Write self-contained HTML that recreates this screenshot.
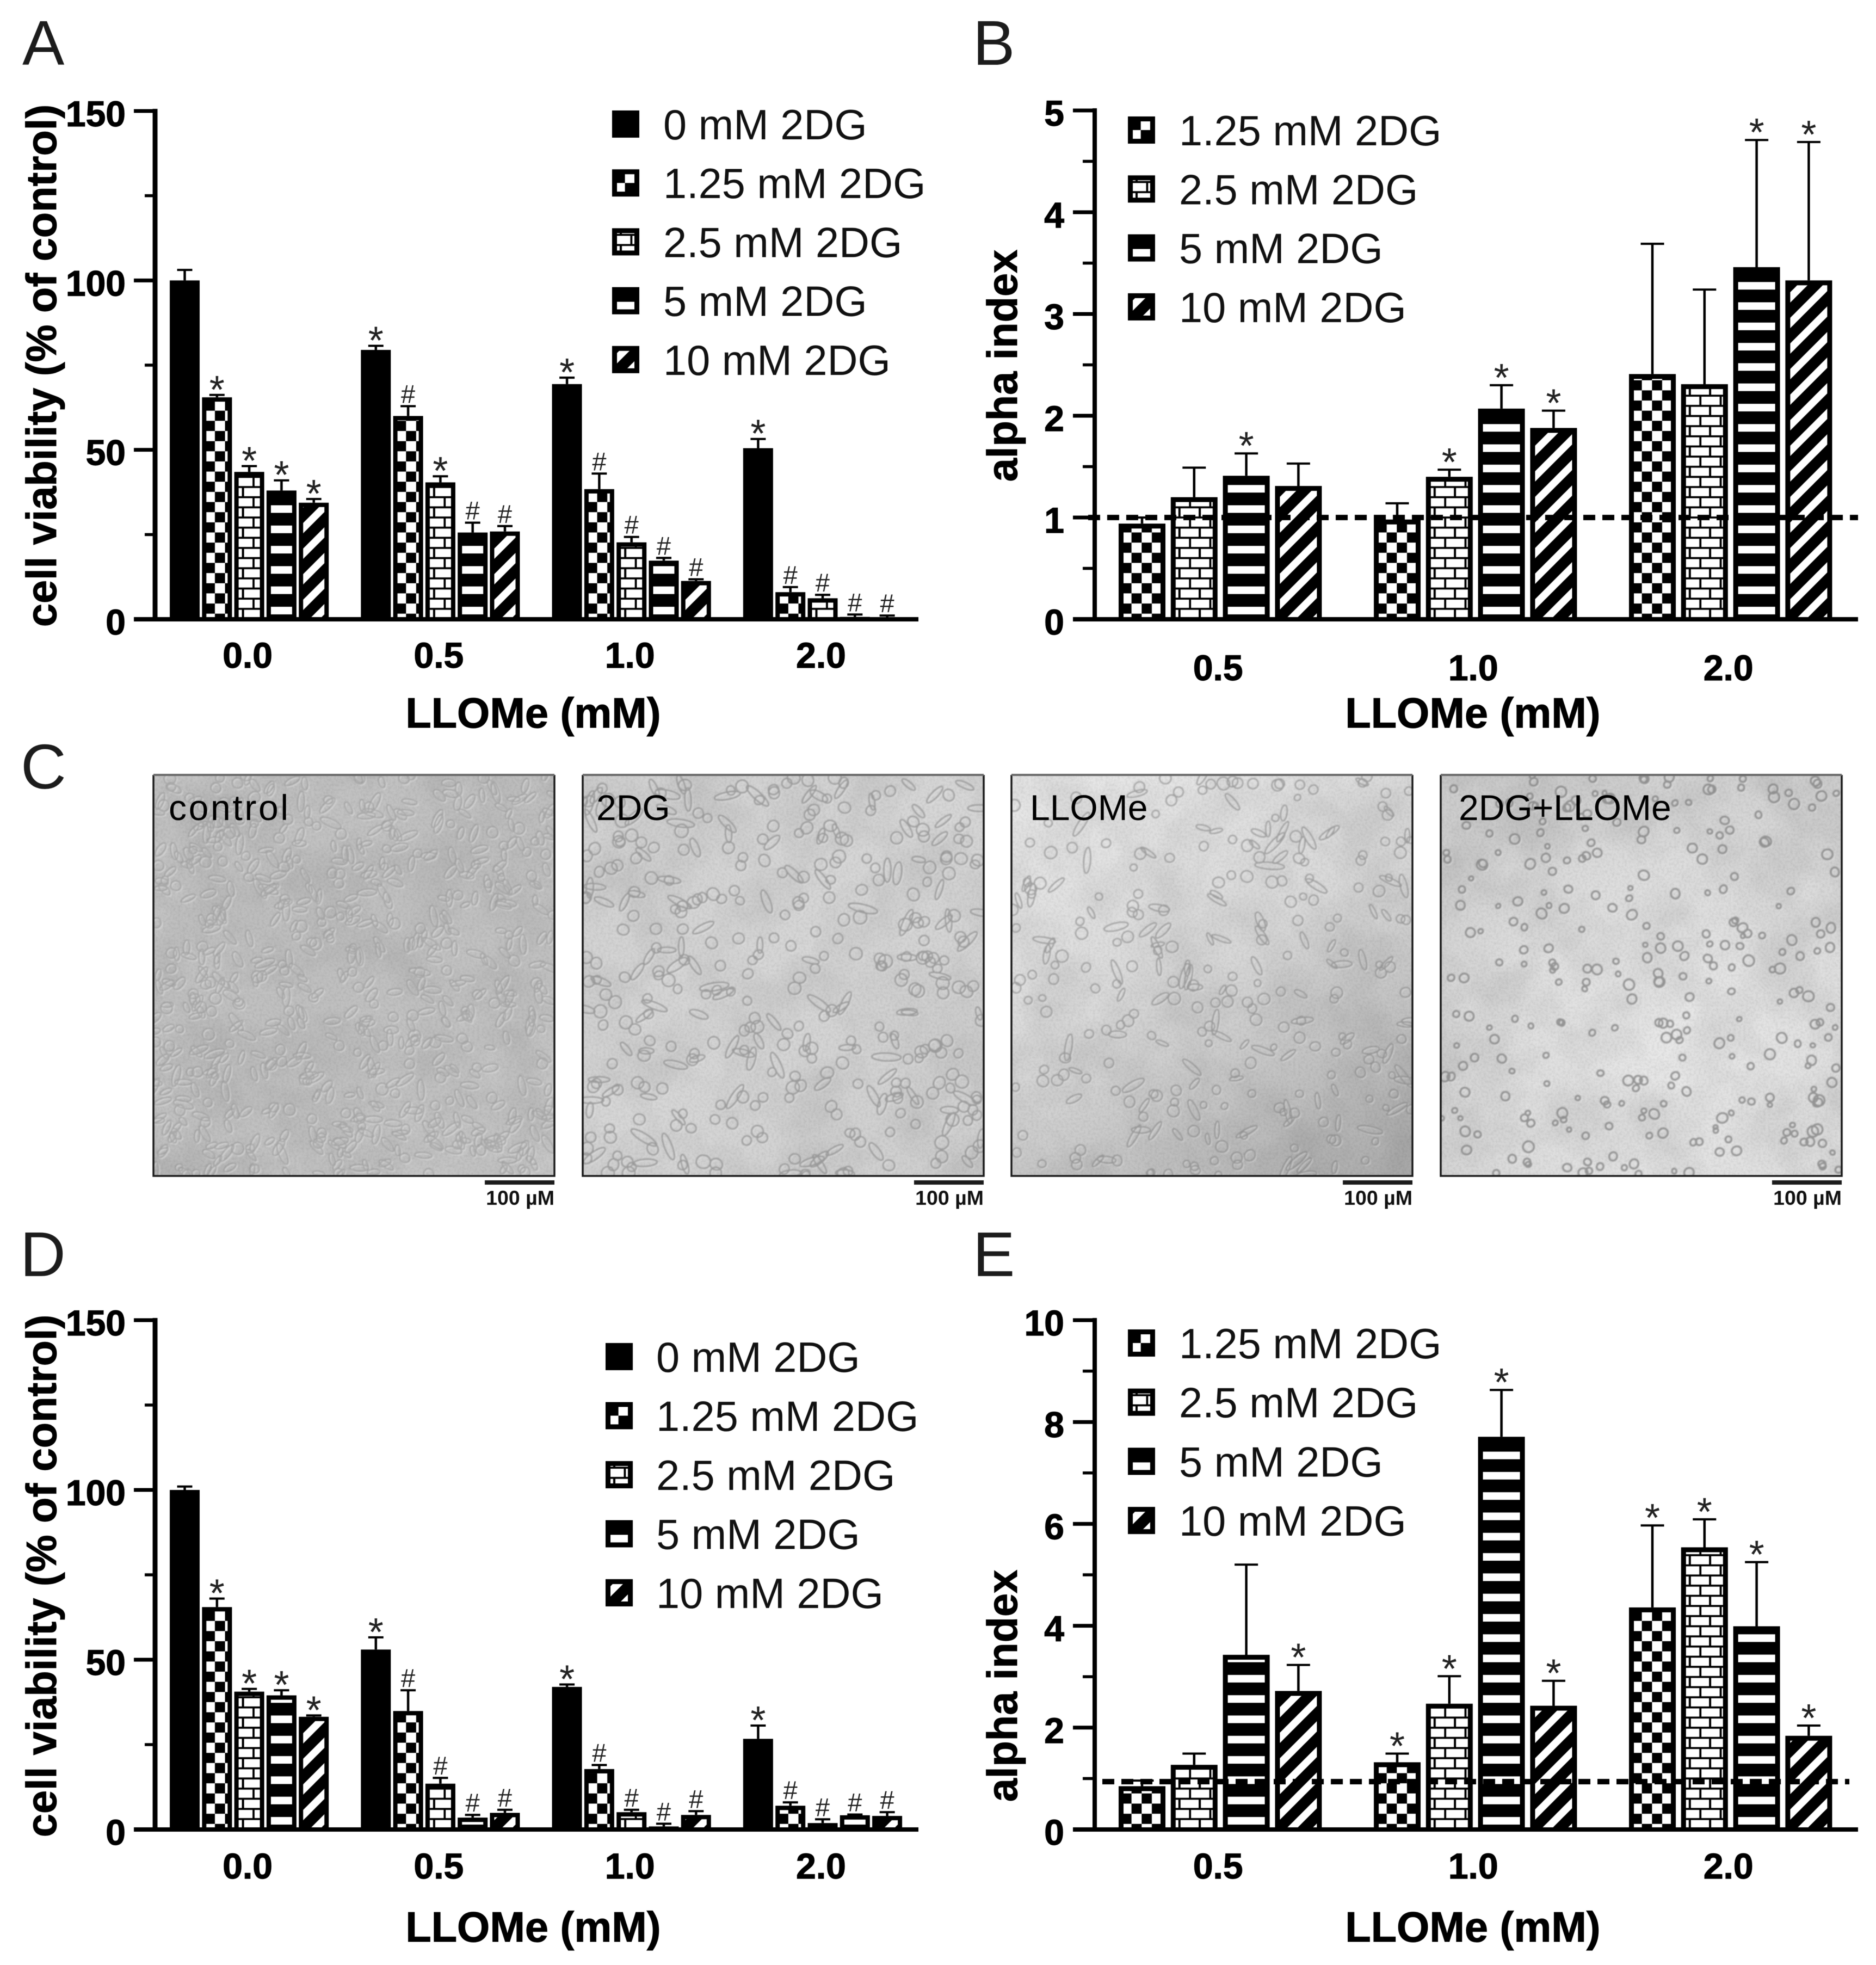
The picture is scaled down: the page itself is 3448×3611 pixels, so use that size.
<!DOCTYPE html>
<html lang="en">
<head>
<meta charset="utf-8">
<title>2DG and LLOMe cell viability figure</title>
<style>
  html, body { margin: 0; padding: 0; background: #fff; }
  body { width: 3448px; height: 3611px; overflow: hidden; }
  svg { display: block; font-family: "Liberation Sans", sans-serif; filter: blur(0.7px); }
</style>
</head>
<body>
<svg id="figure" xmlns="http://www.w3.org/2000/svg" width="3448" height="3611" viewBox="0 0 3448 3611">
  <defs>
    <pattern id="pat-check" x="5" y="-47.6" width="37.3" height="37.3" patternUnits="userSpaceOnUse">
      <rect x="0" y="0" width="18.65" height="18.65" fill="#fff"/>
      <rect x="18.65" y="18.65" width="18.65" height="18.65" fill="#fff"/>
    </pattern>
    <pattern id="pat-brick" x="0" y="-36" width="37.3" height="37.3" patternUnits="userSpaceOnUse">
      <rect x="0" y="0" width="33.5" height="15" fill="#fff"/>
      <rect x="0" y="18.65" width="14" height="15" fill="#fff"/>
      <rect x="18" y="18.65" width="19.3" height="15" fill="#fff"/>
    </pattern>
    <pattern id="pat-hstripe" x="0" y="-23" width="37.3" height="37.3" patternUnits="userSpaceOnUse">
      <rect x="0" y="0" width="37.3" height="14" fill="#fff"/>
    </pattern>
    <pattern id="pat-diag" x="0" y="0" width="47" height="47" patternUnits="userSpaceOnUse">
      <polygon points="19,0 38,0 0,38 0,19" fill="#fff"/>
      <polygon points="47,19 47,38 38,47 19,47" fill="#fff"/>
    </pattern>
    <filter id="blotch" x="0" y="0" width="100%" height="100%">
      <feTurbulence type="fractalNoise" baseFrequency="0.009" numOctaves="3" seed="7"/>
      <feColorMatrix type="matrix" values="0 0 0 0 0  0 0 0 0 0  0 0 0 0 0  2.4 0 0 0 -0.85"/>
    </filter>
    <filter id="grain" x="0" y="0" width="100%" height="100%">
      <feTurbulence type="fractalNoise" baseFrequency="0.22" numOctaves="2" seed="3"/>
      <feColorMatrix type="matrix" values="0 0 0 0 0  0 0 0 0 0  0 0 0 0 0  1.6 0 0 0 -0.6"/>
    </filter>
    <filter id="soft" x="0" y="0" width="100%" height="100%">
      <feGaussianBlur stdDeviation="1.1"/>
    </filter>
    <linearGradient id="shade-control" x1="0" y1="0" x2="1" y2="1">
      <stop offset="0" stop-color="#c4c4c4"/><stop offset="0.5" stop-color="#bfbfbf"/><stop offset="1" stop-color="#c8c8c8"/>
    </linearGradient>
    <linearGradient id="shade-2dg" x1="0" y1="0" x2="1" y2="1">
      <stop offset="0" stop-color="#d0d0d0"/><stop offset="0.5" stop-color="#d6d6d6"/><stop offset="1" stop-color="#cdcdcd"/>
    </linearGradient>
    <linearGradient id="shade-llome" x1="0.25" y1="0" x2="0.85" y2="1">
      <stop offset="0" stop-color="#e6e6e6"/><stop offset="0.45" stop-color="#d8d8d8"/><stop offset="1" stop-color="#aeaeae"/>
    </linearGradient>
    <radialGradient id="shade-combo" cx="0.6" cy="0.7" r="0.8">
      <stop offset="0" stop-color="#e8e8e8"/><stop offset="0.6" stop-color="#dcdcdc"/><stop offset="1" stop-color="#cccccc"/>
    </radialGradient>
  </defs>

  <g id="panel-letters" font-size="116" fill="#1c1c1c">
    <text x="41" y="119">A</text>
    <text x="1788" y="119">B</text>
    <text x="38" y="1449">C</text>
    <text x="37" y="2345">D</text>
    <text x="1788" y="2345">E</text>
  </g>

  <g id="micrographs"></g>
  <g id="chart-a"></g>
  <g id="chart-b"></g>
  <g id="chart-d"></g>
  <g id="chart-e"></g>
</svg>

<script>
// ---------- Panel A data ----------
const aCategories = ['0.0', '0.5', '1.0', '2.0'];
const aSeriesNames = ['0 mM 2DG', '1.25 mM 2DG', '2.5 mM 2DG', '5 mM 2DG', '10 mM 2DG'];
const aYTicks = [0, 50, 100, 150];
const aYMinorTicks = [25, 75, 125];
const aValues = [
  [100, 79.5, 69.4, 50.5],
  [65.5, 60, 38.4, 8],
  [43.5, 40.4, 22.7, 6.2],
  [38, 25.6, 17.3, 0.7],
  [34.4, 25.9, 11.3, 0.5]
];
const aErrorTops = [
  [103.1, 80.7, 71.3, 53.2],
  [66.2, 62.9, 43, 9.5],
  [45.2, 42.2, 24.3, 7.2],
  [41, 28.5, 18.1, 1.4],
  [35.5, 27.5, 11.8, 1.1]
];
const aMarks = [
  ['', '*', '*', '*'],
  ['*', '#', '#', '#'],
  ['*', '*', '#', '#'],
  ['*', '#', '#', '#'],
  ['*', '#', '#', '#']
];

// ---------- Panel B data ----------
const bCategories = ['0.5', '1.0', '2.0'];
const bSeriesNames = ['1.25 mM 2DG', '2.5 mM 2DG', '5 mM 2DG', '10 mM 2DG'];
const bYTicks = [0, 1, 2, 3, 4, 5];
const bYMinorTicks = [0.5, 1.5, 2.5, 3.5, 4.5];
const bReference = [1];
const bValues = [
  [0.94, 0.98, 2.41],
  [1.2, 1.4, 2.31],
  [1.41, 2.07, 3.46],
  [1.31, 1.88, 3.33]
];
const bErrorTops = [
  [1.0, 1.14, 3.69],
  [1.49, 1.47, 3.24],
  [1.63, 2.3, 4.71],
  [1.53, 2.05, 4.69]
];
const bMarks = [
  ['', '', ''],
  ['', '*', ''],
  ['*', '*', '*'],
  ['', '*', '*']
];

// ---------- Panel D data ----------
const dCategories = ['0.0', '0.5', '1.0', '2.0'];
const dSeriesNames = ['0 mM 2DG', '1.25 mM 2DG', '2.5 mM 2DG', '5 mM 2DG', '10 mM 2DG'];
const dYTicks = [0, 50, 100, 150];
const dYMinorTicks = [25, 75, 125];
const dValues = [
  [100, 53, 42, 26.7],
  [65.5, 34.9, 17.8, 7],
  [40.6, 13.5, 5.1, 1.9],
  [39.5, 3.5, 0.9, 4.2],
  [33.2, 4.9, 4.3, 4]
];
const dErrorTops = [
  [101, 56.6, 42.7, 30.6],
  [68, 41, 19, 8],
  [41.4, 15.2, 5.8, 3],
  [41, 4.3, 1.7, 4.4],
  [33.6, 5.8, 5.4, 5.1]
];
const dMarks = [
  ['', '*', '*', '*'],
  ['*', '#', '#', '#'],
  ['*', '#', '#', '#'],
  ['*', '#', '#', '#'],
  ['*', '#', '#', '#']
];

// ---------- Panel E data ----------
const eCategories = ['0.5', '1.0', '2.0'];
const eSeriesNames = ['1.25 mM 2DG', '2.5 mM 2DG', '5 mM 2DG', '10 mM 2DG'];
const eYTicks = [0, 2, 4, 6, 8, 10];
const eYMinorTicks = [1, 3, 5, 7, 9];
const eReference = [0.94];
const eValues = [
  [0.85, 1.32, 4.36],
  [1.27, 2.47, 5.54],
  [3.43, 7.71, 3.99],
  [2.72, 2.43, 1.84]
];
const eErrorTops = [
  [0.96, 1.49, 5.97],
  [1.49, 3.01, 6.09],
  [5.2, 8.63, 5.25],
  [3.23, 2.92, 2.04]
];
const eMarks = [
  ['', '*', '*'],
  ['', '*', '*'],
  ['', '*', '*'],
  ['*', '*', '*']
];

const NS = 'http://www.w3.org/2000/svg';
const patternForSeries = {
  '0 mM 2DG': null,
  '1.25 mM 2DG': 'pat-check',
  '2.5 mM 2DG': 'pat-brick',
  '5 mM 2DG': 'pat-hstripe',
  '10 mM 2DG': 'pat-diag'
};

function make(tag, attrs, parent) {
  const el = document.createElementNS(NS, tag);
  for (const k in attrs) el.setAttribute(k, attrs[k]);
  parent.appendChild(el);
  return el;
}
function slug(s) {
  return s.toLowerCase().replace(/[^a-z0-9]+/g, '-').replace(/^-|-$/g, '');
}

function drawChart(g) {
  const root = document.getElementById(g.id);
  const yScale = v => g.base - (v / g.max) * (g.base - g.top);
  const xBar = (c, s) => g.group0 + c * g.groupStep + s * g.barStep;
  const xCat = c => xBar(c, 0) + ((g.series.length - 1) * g.barStep + g.barW) / 2 + g.catShift;

  // error bars
  g.series.forEach((name, s) => {
    g.categories.forEach((cat, c) => {
      const cx = xBar(c, s) + g.barW / 2;
      const e = yScale(g.errors[s][c]);
      const bw = make('g', { stroke: '#000', fill: 'none' }, root);
      
      
      make('line', { x1: cx, x2: cx, y1: yScale(g.values[s][c]), y2: e, 'stroke-width': 4.5 }, bw);
      make('line', { x1: cx - g.capW / 2, x2: cx + g.capW / 2, y1: e, y2: e, 'stroke-width': 4 }, bw);
    });
  });

  // bars
  g.series.forEach((name, s) => {
    g.categories.forEach((cat, c) => {
      const h = g.base - yScale(g.values[s][c]);
      const barG = make('g', { transform: 'translate(' + xBar(c, s) + ',' + g.base + ')' }, root);
      
      
      make('rect', { x: 0, y: -h, width: g.barW, height: h, fill: '#000' }, barG);
      const pat = patternForSeries[name];
      if (pat && h > g.border + 1) {
        make('rect', { x: g.border, y: -h + g.border, width: g.barW - 2 * g.border, height: h - g.border, fill: 'url(#' + pat + ')' }, barG);
      }
    });
  });

  // significance marks
  g.series.forEach((name, s) => {
    g.categories.forEach((cat, c) => {
      const m = g.marks[s][c];
      if (!m) return;
      const cx = xBar(c, s) + g.barW / 2;
      const e = yScale(g.errors[s][c]);
      const t = make('text', {
        x: cx, y: m === '*' ? e + g.starDrop : e - 6, 'text-anchor': 'middle',
        'font-size': m === '*' ? 72 : 47, fill: '#222'
      }, root);
      t.textContent = m;
      
      
    });
  });

  // reference line
  g.reference.forEach(v => {
    const l = make('line', {
      x1: g.refStart, x2: g.refEnd, y1: yScale(v), y2: yScale(v),
      stroke: '#000', 'stroke-width': 10, 'stroke-dasharray': '22 13'
    }, root);
    
    
  });

  // axes
  const yAxis = make('line', { x1: g.axisX, x2: g.axisX, y1: yScale(g.max) - 4, y2: g.base + 4, stroke: '#000', 'stroke-width': g.axisW }, root);
  
  
  const xAxis = make('line', { x1: g.tickLeft, x2: g.axisEnd, y1: g.base, y2: g.base, stroke: '#000', 'stroke-width': 8 }, root);
  
  

  g.yTicks.forEach(v => {
    const y = yScale(v);
    const tk = make('line', { x1: g.tickLeft, x2: g.axisX, y1: y, y2: y, stroke: '#000', 'stroke-width': 7 }, root);
    
    
    const lb = make('text', { x: g.tickLabelRight, y: y + 28, 'text-anchor': 'end', 'font-size': 66, 'font-weight': 700, fill: '#000', stroke: '#000', 'stroke-width': 1.2 }, root);
    lb.textContent = String(v);
    
    
  });
  g.yMinor.forEach(v => {
    const y = yScale(v);
    const tk = make('line', { x1: g.minorLeft, x2: g.axisX, y1: y, y2: y, stroke: '#000', 'stroke-width': 5.5 }, root);
    
    
  });

  g.categories.forEach((cat, c) => {
    const t = make('text', { x: xCat(c), y: g.catBaseline, 'text-anchor': 'middle', 'font-size': 66, 'font-weight': 700, fill: '#000', stroke: '#000', 'stroke-width': 1.2 }, root);
    t.textContent = cat;
    
    
  });

  // titles
  const xt = make('text', { x: g.xTitleX, y: g.xTitleY, 'text-anchor': 'middle', 'font-size': 77.5, 'font-weight': 700, fill: '#000', stroke: '#000', 'stroke-width': 1 }, root);
  xt.textContent = 'LLOMe (mM)';
  
  
  const yt = make('text', {
    transform: 'translate(' + g.yTitleX + ',' + g.yTitleY + ') rotate(-90)',
    x: 0, y: 0, 'text-anchor': 'middle', 'font-size': 77.5, 'font-weight': 700, fill: '#000', stroke: '#000', 'stroke-width': 1
  }, root);
  yt.textContent = g.yTitle;
  
  

  // legend
  const lg = make('g', {}, root);
  
  
  g.series.forEach((name, s) => {
    const cy = g.legendY0 + s * g.legendStep;
    const bottom = cy + 25;
    const pat = patternForSeries[name];
    const originY = pat === 'pat-check' ? bottom + 22.6 : bottom;
    const entry = make('g', {}, lg);
    
    
    const sw = make('g', { transform: 'translate(' + g.legendX + ',' + originY + ')' }, entry);
    
    
    const top = bottom - 50 - originY;
    make('rect', { x: 0, y: top, width: 50, height: 50, fill: '#000' }, sw);
    if (pat) make('rect', { x: 9, y: top + 9, width: 32, height: 32, fill: 'url(#' + pat + ')' }, sw);
    const t = make('text', { x: g.legendTextX, y: cy + 28, 'font-size': 77.5, fill: '#111' }, entry);
    t.textContent = name;
    
    
  });
}

const viabilityLayout = {
  max: 150, group0: 312, groupStep: 351.3, barStep: 59.3, barW: 55, border: 8, capW: 28, starDrop: 15,
  axisX: 285, axisW: 9, tickLeft: 246, minorLeft: 266, axisEnd: 1688, tickLabelRight: 231,
  catShift: -3, xTitleX: 980, yTitleX: 103, yTitle: 'cell viability (% of control)',
  reference: [], refStart: 0, refEnd: 0
};
const alphaLayout = {
  group0: 2056, groupStep: 469, barStep: 95.8, barW: 86, border: 9, capW: 43, starDrop: 11,
  axisX: 2012, axisW: 8, tickLeft: 1972, minorLeft: 1990, axisEnd: 3415, tickLabelRight: 1956,
  catShift: -4, xTitleX: 2707, yTitleX: 1869, yTitle: 'alpha index',
  legendX: 2073, legendTextX: 2167
};

drawChart(Object.assign({}, viabilityLayout, {
  id: 'chart-a', top: 204, base: 1138, categories: aCategories, series: aSeriesNames,
  values: aValues, errors: aErrorTops, marks: aMarks, yTicks: aYTicks, yMinor: aYMinorTicks,
  catBaseline: 1227, xTitleY: 1337, yTitleY: 672,
  legendX: 1125, legendTextX: 1219, legendY0: 228, legendStep: 108.2
}));
drawChart(Object.assign({}, alphaLayout, {
  id: 'chart-b', max: 5, top: 203, base: 1138, categories: bCategories, series: bSeriesNames,
  values: bValues, errors: bErrorTops, marks: bMarks, yTicks: bYTicks, yMinor: bYMinorTicks,
  reference: bReference, refStart: 2000, refEnd: 3415,
  catBaseline: 1250, xTitleY: 1337, yTitleY: 672, legendY0: 239, legendStep: 108.3
}));
drawChart(Object.assign({}, viabilityLayout, {
  id: 'chart-d', top: 2426, base: 3362, categories: dCategories, series: dSeriesNames,
  values: dValues, errors: dErrorTops, marks: dMarks, yTicks: dYTicks, yMinor: dYMinorTicks,
  catBaseline: 3452, xTitleY: 3568, yTitleY: 2896,
  legendX: 1113, legendTextX: 1206, legendY0: 2493, legendStep: 108.5
}));
drawChart(Object.assign({}, alphaLayout, {
  id: 'chart-e', max: 10, top: 2426, base: 3362, categories: eCategories, series: eSeriesNames,
  values: eValues, errors: eErrorTops, marks: eMarks, yTicks: eYTicks, yMinor: eYMinorTicks,
  reference: eReference, refStart: 2026, refEnd: 3399,
  catBaseline: 3452, xTitleY: 3568, yTitleY: 3098, legendY0: 2468, legendStep: 108.7
}));

// ---------- Panel C: micrograph texture (decorative, not chart data) ----------
function seeded(seed) {
  let s = seed >>> 0;
  return function () {
    s = (s + 0x6D2B79F5) >>> 0;
    let t = s;
    t = Math.imul(t ^ (t >>> 15), t | 1);
    t ^= t + Math.imul(t ^ (t >>> 7), t | 61);
    return ((t ^ (t >>> 14)) >>> 0) / 4294967296;
  };
}
function ellipseArc(x, y, rx, ry, deg) {
  const a = deg * Math.PI / 180;
  const dx = Math.cos(a) * rx, dy = Math.sin(a) * rx;
  const f = n => n.toFixed(1);
  return 'M' + f(x - dx) + ' ' + f(y - dy) +
    'A' + f(rx) + ' ' + f(ry) + ' ' + f(deg) + ' 1 0 ' + f(x + dx) + ' ' + f(y + dy) +
    'A' + f(rx) + ' ' + f(ry) + ' ' + f(deg) + ' 1 0 ' + f(x - dx) + ' ' + f(y - dy) + 'Z';
}
const micrographs = [
  { key: 'control', label: 'control', x: 282, labelX: 310, labelLen: 220, shade: 'shade-control', blotch: 0.06, seed: 11, round: 170, spindle: 520, rMin: 7, rMax: 11, stretchMin: 1.2, stretchMax: 1.9, dark: '#8e8e8e', darkOp: 0.6, light: '#dedede', lightOp: 0.65, width: 2.6 },
  { key: '2dg', label: '2DG', x: 1071, labelX: 1096, labelLen: 0, shade: 'shade-2dg', blotch: 0.06, seed: 23, round: 290, spindle: 120, rMin: 8, rMax: 12, stretchMin: 1.5, stretchMax: 2.4, dark: '#828282', darkOp: 0.7, light: '#e6e6e6', lightOp: 0.45, width: 2.8 },
  { key: 'llome', label: 'LLOMe', x: 1859, labelX: 1893, labelLen: 0, shade: 'shade-llome', blotch: 0.06, seed: 37, round: 200, spindle: 110, rMin: 6, rMax: 11, stretchMin: 1.5, stretchMax: 2.6, dark: '#7c7c7c', darkOp: 0.65, light: '#e8e8e8', lightOp: 0.4, width: 2.6 },
  { key: 'combo', label: '2DG+LLOMe', x: 2648, labelX: 2681, labelLen: 0, shade: 'shade-combo', blotch: 0.07, seed: 51, round: 290, spindle: 0, rMin: 4, rMax: 10, stretchMin: 1, stretchMax: 1, dark: '#737373', darkOp: 0.7, light: '#ececec', lightOp: 0.4, width: 3.6 }
];
const microRoot = document.getElementById('micrographs');
const microTop = 1424, microSize = 737;
micrographs.forEach(m => {
  const rnd = seeded(m.seed);
  const g = make('g', {}, microRoot);
  
  

  const clipId = 'clip-' + m.key;
  const clip = make('clipPath', { id: clipId }, g);
  make('rect', { x: m.x, y: microTop, width: microSize, height: microSize }, clip);
  const inner = make('g', { 'clip-path': 'url(#' + clipId + ')' }, g);
  make('rect', { x: m.x, y: microTop, width: microSize, height: microSize, fill: 'url(#' + m.shade + ')' }, inner);
  make('rect', { x: m.x, y: microTop, width: microSize, height: microSize, filter: 'url(#blotch)', opacity: m.blotch }, inner);
  make('rect', { x: m.x, y: microTop, width: microSize, height: microSize, filter: 'url(#grain)', opacity: 0.08 }, inner);

  let d = '';
  for (let i = 0; i < m.round + m.spindle; i++) {
    const isRound = i < m.round;
    const x = m.x + rnd() * microSize;
    const y = microTop + rnd() * microSize;
    const r = m.rMin + rnd() * (m.rMax - m.rMin);
    const rx = isRound ? r : r * (m.stretchMin + rnd() * (m.stretchMax - m.stretchMin));
    const ry = isRound ? r * (0.85 + rnd() * 0.15) : r * 0.6;
    d += ellipseArc(x, y, rx, ry, rnd() * 180);
  }
  const cells = make('g', { filter: 'url(#soft)' }, inner);
  
  
  make('path', { d: d, fill: 'none', stroke: m.light, 'stroke-width': m.width, opacity: m.lightOp, transform: 'translate(2,2)' }, cells);
  make('path', { d: d, fill: 'none', stroke: m.dark, 'stroke-width': m.width, opacity: m.darkOp }, cells);

  const frame = make('g', { fill: 'none' }, g);
  
  
  make('path', { d: 'M' + m.x + ' ' + microTop + 'V' + (microTop + microSize) + 'H' + (m.x + microSize) + 'V' + microTop, stroke: '#1c1c1c', 'stroke-width': 3.5 }, frame);
  make('line', { x1: m.x, x2: m.x + microSize, y1: microTop, y2: microTop, stroke: '#6a6a6a', 'stroke-width': 4 }, frame);

  const lbAttrs = { x: m.labelX, y: 1507, 'font-size': 66, fill: '#000' };
  if (m.labelLen) lbAttrs.textLength = m.labelLen;
  const lb = make('text', lbAttrs, g);
  lb.textContent = m.label;
  
  

  const right = m.x + microSize;
  const sb = make('rect', { x: right - 128, y: 2169, width: 128, height: 8, fill: '#1c1c1c' }, g);
  
  
  const st = make('text', { x: right, y: 2214, 'text-anchor': 'end', 'font-size': 37.5, 'font-weight': 700, fill: '#111' }, g);
  st.textContent = '100 µM';
  
  
});
</script>
</body>
</html>
